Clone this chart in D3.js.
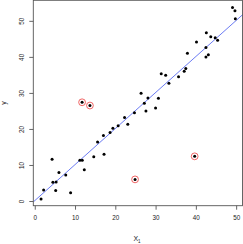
<!DOCTYPE html>
<html><head><meta charset="utf-8">
<script src="https://cdn.jsdelivr.net/npm/d3@7"></script>
<style>html,body{margin:0;padding:0;background:#fff;}svg{display:block;}</style>
</head><body>
<script>
const xValues = [1.57,2.2,4.3,4.5,5.3,5.2,6.0,7.7,8.9,11.2,11.8,12.3,11.75,13.7,14.65,15.6,17.05,17.2,18.7,19.4,20.7,22.3,23.1,24.75,24.9,26.4,27.2,27.6,28.1,30.0,30.7,31.4,32.5,33.3,35.7,37.1,37.5,37.9,39.7,40.15,42.5,42.6,42.5,43.1,43.7,44.8,45.4,49.1,49.7,49.8];
const yValues = [0.55,3.05,11.6,5.2,5.3,2.9,7.9,7.2,2.3,11.3,11.3,8.7,27.4,26.5,12.3,16.4,18.2,13.0,19.0,20.2,20.9,23.2,21.3,24.5,6.0,29.9,27.1,25.0,28.6,25.8,28.5,35.3,34.9,32.7,34.5,36.0,36.8,41.0,12.4,44.1,42.6,46.7,40.0,40.6,45.6,45.3,44.6,53.7,52.8,50.6];
const outlierX = [11.75,13.7,24.9,39.7];
const outlierY = [27.4,26.5,6.0,12.4];
const xTicks = [0,10,20,30,40,50];
const yTicks = [0,10,20,30,40,50];
const fitIntercept = 0.1, fitSlope = 1.0;

const W = 243, H = 244;
const svg = d3.select("body").append("svg").attr("width", W).attr("height", H);
const x = d3.scaleLinear().domain([-0.36, 51.7]).range([33.3, 243]);
const y = d3.scaleLinear().domain([-1.3, 55.7]).range([205.7, 0.3]);
const font = "Liberation Sans, Arial, sans-serif";
const axisCol = "#555";

svg.append("defs").append("clipPath").attr("id","clip").append("rect")
  .attr("x", x.range()[0]).attr("y", y.range()[1])
  .attr("width", x.range()[1]-x.range()[0]).attr("height", y.range()[0]-y.range()[1]);

// fit line
const xd = x.domain();
svg.append("line").attr("clip-path","url(#clip)")
  .attr("x1", x(xd[0])).attr("y1", y(fitIntercept + fitSlope*xd[0]))
  .attr("x2", x(xd[1])).attr("y2", y(fitIntercept + fitSlope*xd[1]))
  .attr("stroke", "#5a6cf2").attr("stroke-width", 0.9);

// points
svg.append("g").selectAll("circle").data(xValues).join("circle")
  .attr("cx", (d)=>x(d)).attr("cy", (d,i)=>y(yValues[i])).attr("r", 1.5).attr("fill", "#000");

// outlier rings
svg.append("g").selectAll("circle").data(outlierX).join("circle")
  .attr("cx", d=>x(d)).attr("cy", (d,i)=>y(outlierY[i])).attr("r", 3.4)
  .attr("fill", "none").attr("stroke", "#ee5555").attr("stroke-width", 0.9);

// box
svg.append("rect").attr("x", x.range()[0]).attr("y", y.range()[1])
  .attr("width", x.range()[1]-x.range()[0]-0.5).attr("height", y.range()[0]-y.range()[1])
  .attr("fill","none").attr("stroke", axisCol).attr("stroke-width", 0.9);

// x axis
const xa = svg.append("g").attr("transform", `translate(0,${y.range()[0]})`)
  .call(d3.axisBottom(x).tickValues(xTicks).tickSize(4).tickPadding(6).tickFormat(d3.format("d")));
xa.select(".domain").remove();
xa.selectAll("line").attr("stroke", axisCol).attr("stroke-width", 0.9);
xa.selectAll("text").attr("font-family", font).attr("font-size", 6.3).attr("fill", "#222");

// y axis
const ya = svg.append("g").attr("transform", `translate(${x.range()[0]},0)`)
  .call(d3.axisLeft(y).tickValues(yTicks).tickSize(4).tickPadding(6).tickFormat(d3.format("d")));
ya.select(".domain").remove();
ya.selectAll("line").attr("stroke", axisCol).attr("stroke-width", 0.9);
ya.selectAll("text").attr("font-family", font).attr("font-size", 6.3).attr("fill", "#222")
  .attr("text-anchor","middle").attr("x", 0).attr("y", 0)
  .attr("transform", "translate(-12,0) rotate(-90)").attr("dy","0.35em");

// axis titles
const xt = svg.append("text").attr("x", 137).attr("y", 241).attr("text-anchor","middle")
  .attr("font-family", font).attr("font-size", 7).attr("fill","#222");
xt.append("tspan").text("X");
xt.append("tspan").attr("font-size", 4.5).attr("dy", 1.5).text("1");
svg.append("text").attr("transform","translate(6,103) rotate(-90)").attr("text-anchor","middle")
  .attr("font-family", font).attr("font-size", 7).attr("fill","#222").text("y");
</script>
</body></html>
